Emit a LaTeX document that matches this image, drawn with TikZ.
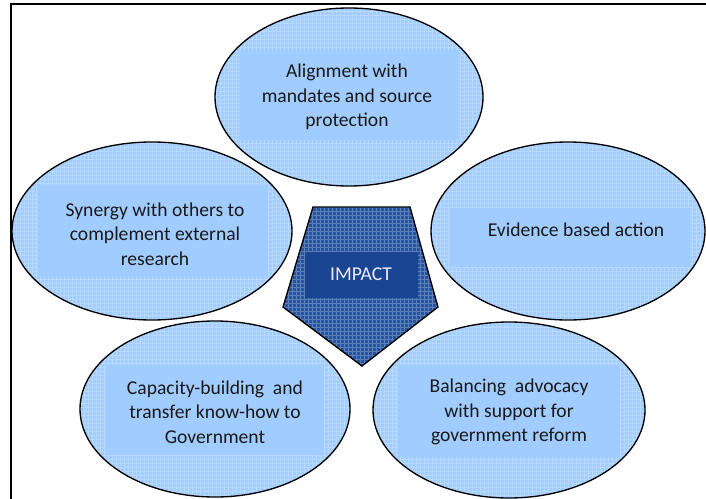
\documentclass[tikz,border=0pt]{standalone}
\usepackage{fontspec}
\setmainfont{Carlito}
\usetikzlibrary{shapes.geometric, positioning, patterns}
\definecolor{bubblefill}{HTML}{A3CDFF}
\definecolor{bubblebox}{HTML}{A1CCFF}
\definecolor{impactfill}{HTML}{27549F}
\definecolor{impactbox}{HTML}{1A4592}

\begin{document}
\begin{tikzpicture}[x=0.75pt, y=-0.75pt,
        bubble/.style={ellipse, draw=black, line width=1pt, preaction={fill=bubblefill}, pattern=grid, pattern color=white!22!bubblefill, inner sep=0pt},
        label text/.style={align=center, text=black!90, font=\fontsize{14.7}{18.3}\selectfont}]
        \useasboundingbox (0,0) rectangle (706,499);

        % frame
        \draw[line width=1.5pt] (11,499) -- (11,4) -- (706,4);

        % ellipses
        \node[bubble, minimum width=201pt, minimum height=133.5pt] (align) at (349,97) {};
        \node[bubble, minimum width=210pt, minimum height=133.5pt] (synergy) at (152,231) {};
        \node[bubble, minimum width=205.5pt, minimum height=133.5pt] (evidence) at (568,231) {};
        \node[bubble, minimum width=202.5pt, minimum height=132pt] (capacity) at (215,409) {};
        \node[bubble, minimum width=204pt, minimum height=132pt] (balance) at (509,410) {};

        % text boxes
        \fill[bubblebox] (240,50) rectangle (458,140);
        \fill[bubblebox] (38,185) rectangle (268,277);
        \fill[bubblebox] (450,208) rectangle (690,267);
        \fill[bubblebox] (106,365) rectangle (324,455);
        \fill[bubblebox] (398,365) rectangle (620,457);

        \node[label text] (aligntext) at (347,97) {Alignment with\\mandates and source\\protection};
        \node[label text] (synergytext) at (155,234) {Synergy with others to\\complement external\\research};
        \node[label text] (evidencetext) at (576,230) {Evidence based action};
        \node[label text] (capacitytext) at (215,412) {Capacity-building~ and\\transfer know-how to\\Government};
        \node[label text] (balancetext) at (509,412) {Balancing~ advocacy\\with support for\\government reform};

        % centre pentagon
        \draw[line width=1pt, preaction={fill=impactfill}, pattern=grid, pattern color=impactfill!75!white]
            (313,207) -- (410,207) -- (438,307) -- (362,366) -- (283,307) -- cycle;
        \fill[impactbox] (305,252) rectangle (418,298);
        \node[label text, text=white!92!blue] (impact) at (361,274) {IMPACT};

      \end{tikzpicture}
\end{document}
